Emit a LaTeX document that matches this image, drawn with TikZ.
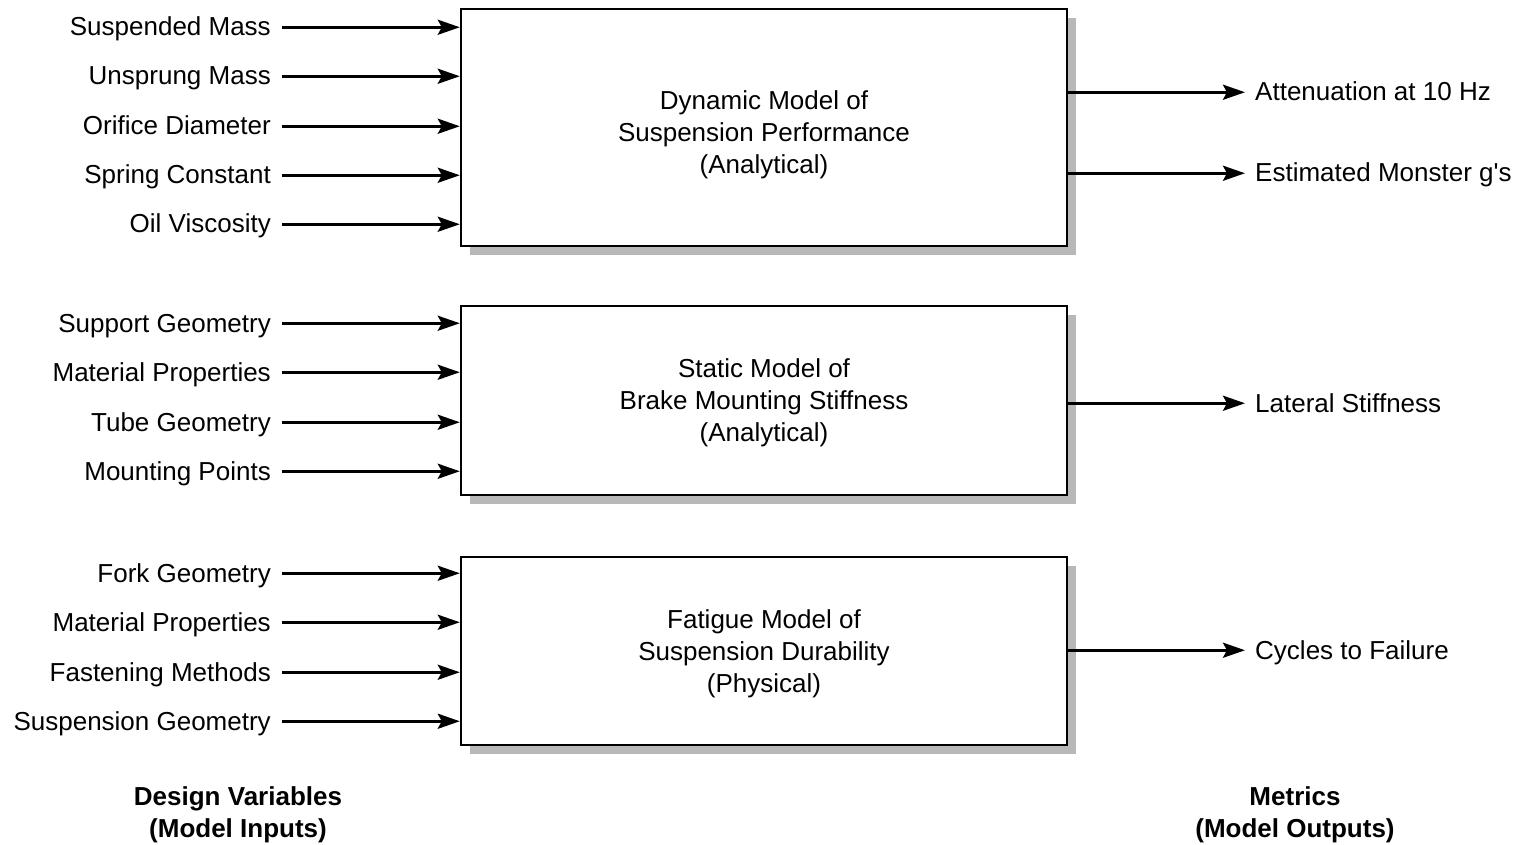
\documentclass[tikz,border=0pt]{standalone}
\usepackage{fontspec}
\setmainfont{Liberation Sans}
\usetikzlibrary{arrows.meta,shadows}
\begin{document}
\begin{tikzpicture}[x=1pt,y=-1pt,
  every node/.style={font=\fontsize{26}{32}\selectfont, inner sep=0pt},
  model/.style={draw=black, line width=2.4pt, fill=white,
    minimum width=606pt,
    drop shadow={shadow xshift=9pt, shadow yshift=-9pt, fill=black!28, opacity=1}},
  boxtext/.style={align=center},
  inlab/.style={anchor=base east, text height=21pt, text depth=3.5pt},
  outlab/.style={anchor=base west, text height=21pt, text depth=3.5pt},
  arr/.style={line width=3pt, -{Stealth[length=22pt,width=15pt,inset=4pt]}},
  foot/.style={font=\fontsize{26}{32}\selectfont\bfseries, align=center}
]
\useasboundingbox (0,0) rectangle (1527,845);
% boxes
\node[model, minimum height=237pt] (b1) at (764,127.5) {};
\node[model, minimum height=189pt] (b2) at (764,400.5) {};
\node[model, minimum height=188pt] (b3) at (764,651) {};
\node[boxtext] (t1) at (764,135) {Dynamic Model of\\Suspension Performance\\(Analytical)};
\node[boxtext] (t2) at (764,403) {Static Model of\\Brake Mounting Stiffness\\(Analytical)};
\node[boxtext] (t3) at (764,654) {Fatigue Model of\\Suspension Durability\\(Physical)};
% inputs box 1
\node[inlab] (i11) at (271,36) {Suspended Mass};
\node[inlab] (i12) at (271,85) {Unsprung Mass};
\node[inlab] (i13) at (271,135) {Orifice Diameter};
\node[inlab] (i14) at (271,184) {Spring Constant};
\node[inlab] (i15) at (271,233) {Oil Viscosity};
\foreach \n in {i11,i12,i13,i14,i15}
  \draw[arr] ([xshift=11pt]\n.east) -- (\n -| b1.west);
% inputs box 2
\node[inlab] (i21) at (271,332) {Support Geometry};
\node[inlab] (i22) at (271,381) {Material Properties};
\node[inlab] (i23) at (271,431) {Tube Geometry};
\node[inlab] (i24) at (271,480) {Mounting Points};
\foreach \n in {i21,i22,i23,i24}
  \draw[arr] ([xshift=11pt]\n.east) -- (\n -| b2.west);
% inputs box 3
\node[inlab] (i31) at (271,582) {Fork Geometry};
\node[inlab] (i32) at (271,631) {Material Properties};
\node[inlab] (i33) at (271,681) {Fastening Methods};
\node[inlab] (i34) at (271,730) {Suspension Geometry};
\foreach \n in {i31,i32,i33,i34}
  \draw[arr] ([xshift=11pt]\n.east) -- (\n -| b3.west);
% outputs
\node[outlab] (o11) at (1255,101) {Attenuation at 10 Hz};
\node[outlab] (o12) at (1255,182) {Estimated Monster g\textquotesingle s};
\node[outlab] (o21) at (1255,412) {Lateral Stiffness};
\node[outlab] (o31) at (1255,659) {Cycles to Failure};
\draw[arr] (o11 -| b1.east) -- ([xshift=-10pt]o11.west);
\draw[arr] (o12 -| b1.east) -- ([xshift=-10pt]o12.west);
\draw[arr] (o21 -| b2.east) -- ([xshift=-10pt]o21.west);
\draw[arr] (o31 -| b3.east) -- ([xshift=-10pt]o31.west);
% footers
\node[foot] (f1) at (238,815) {Design Variables\\(Model Inputs)};
\node[foot] (f2) at (1295,815) {Metrics\\(Model Outputs)};
\end{tikzpicture}
\end{document}
